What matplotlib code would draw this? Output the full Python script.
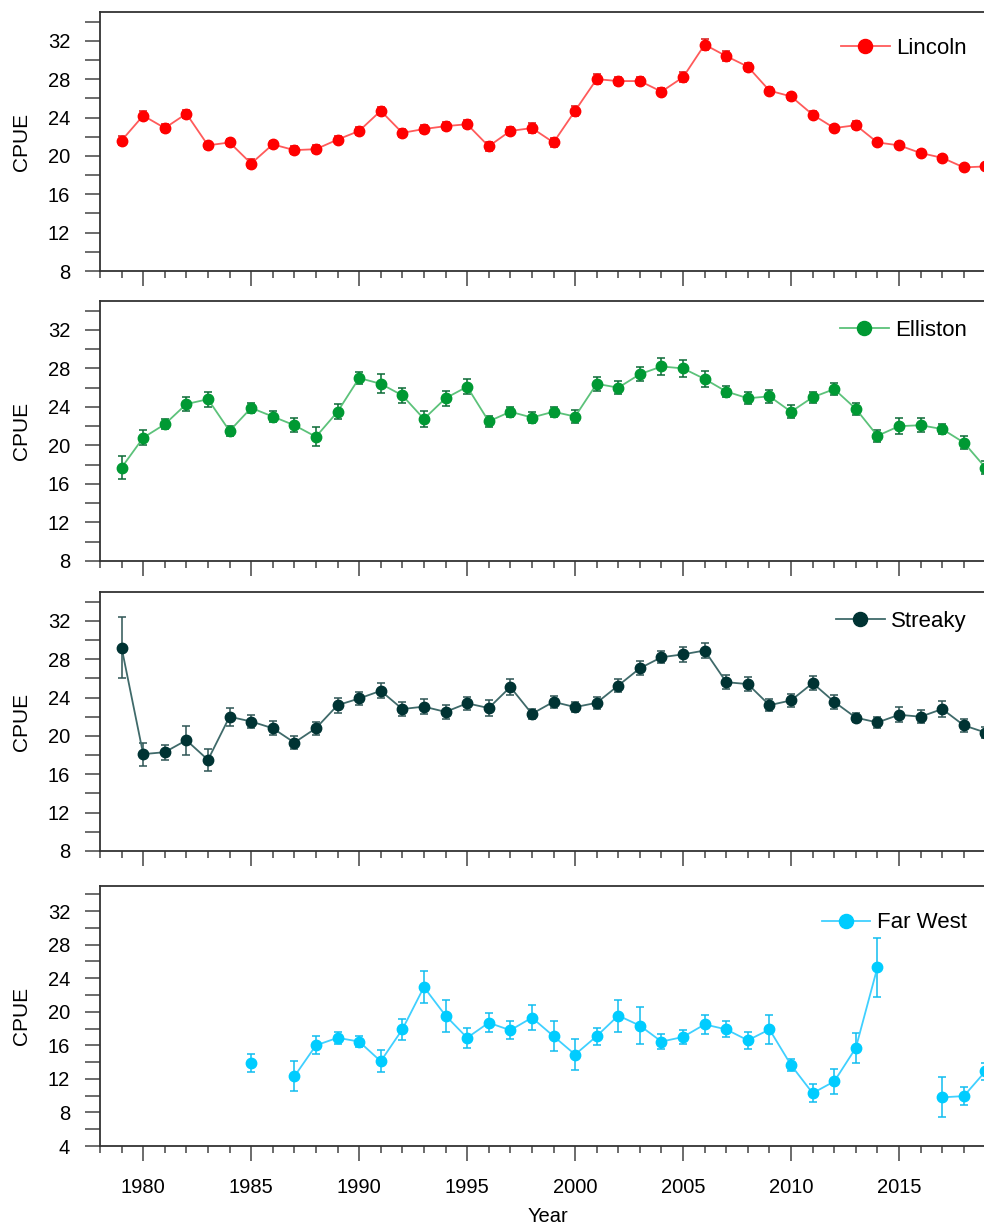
import numpy as np
import matplotlib
matplotlib.use("Agg")
import matplotlib.pyplot as plt
from matplotlib.ticker import MultipleLocator

plt.rcParams["font.family"] = ["Liberation Sans", "DejaVu Sans"]

# --- Data ---
years = np.arange(1979, 2020)
nan = np.nan

lincoln = [21.6, 24.2, 22.9, 24.4, 21.1, 21.4, 19.2, 21.2, 20.6, 20.7,
           21.7, 22.6, 24.7, 22.4, 22.8, 23.1, 23.3, 21.0, 22.6, 22.9,
           21.4, 24.7, 28.0, 27.8, 27.8, 26.7, 28.2, 31.6, 30.4, 29.3,
           26.8, 26.2, 24.3, 22.9, 23.2, 21.4, 21.1, 20.3, 19.8, 18.8,
           18.9]
lincoln_err = [0.5, 0.5, 0.4, 0.4, 0.4, 0.4, 0.5, 0.4, 0.4, 0.4,
               0.4, 0.4, 0.4, 0.4, 0.4, 0.4, 0.4, 0.5, 0.4, 0.5,
               0.5, 0.5, 0.5, 0.4, 0.4, 0.4, 0.5, 0.6, 0.5, 0.4,
               0.4, 0.4, 0.4, 0.3, 0.4, 0.3, 0.3, 0.3, 0.3, 0.3,
               0.3]

elliston = [17.7, 20.8, 22.2, 24.3, 24.8, 21.5, 23.9, 23.0, 22.1, 20.9,
            23.5, 27.0, 26.4, 25.2, 22.75, 24.9, 26.1, 22.5, 23.5, 22.9,
            23.5, 23.0, 26.4, 26.0, 27.4, 28.2, 28.0, 26.9, 25.6, 24.9,
            25.1, 23.5, 25.0, 25.85, 23.8, 21.0, 22.0, 22.1, 21.7, 20.3,
            17.7]
elliston_err = [1.2, 0.8, 0.5, 0.75, 0.8, 0.5, 0.5, 0.55, 0.7, 1.0,
                0.8, 0.6, 1.0, 0.8, 0.8, 0.8, 0.8, 0.6, 0.5, 0.6,
                0.5, 0.7, 0.7, 0.65, 0.75, 0.9, 0.9, 0.8, 0.6, 0.6,
                0.65, 0.7, 0.6, 0.6, 0.6, 0.6, 0.8, 0.7, 0.55, 0.7,
                0.7]

streaky = [29.2, 18.1, 18.3, 19.55, 17.5, 22.0, 21.5, 20.8, 19.3, 20.8,
           23.2, 23.9, 24.7, 22.8, 23.05, 22.5, 23.4, 22.9, 25.1, 22.3,
           23.55, 23.0, 23.45, 25.25, 27.05, 28.2, 28.5, 28.9, 25.6, 25.4,
           23.2, 23.7, 25.5, 23.55, 21.9, 21.4, 22.2, 22.0, 22.8, 21.1,
           20.35]
streaky_err = [3.2, 1.2, 0.8, 1.5, 1.15, 0.95, 0.65, 0.75, 0.7, 0.7,
               0.8, 0.7, 0.8, 0.7, 0.75, 0.7, 0.65, 0.8, 0.8, 0.5,
               0.6, 0.55, 0.6, 0.7, 0.75, 0.6, 0.8, 0.8, 0.7, 0.75,
               0.65, 0.7, 0.75, 0.75, 0.5, 0.6, 0.8, 0.7, 0.8, 0.7,
               0.6]

far_west = [nan, nan, nan, nan, nan, nan, 13.9, nan, 12.3, 16.0,
            16.9, 16.45, 14.1, 17.9, 22.95, 19.55, 16.9, 18.7, 17.8, 19.3,
            17.1, 14.9, 17.1, 19.55, 18.35, 16.45, 17.0, 18.5, 17.9, 16.6,
            17.9, 13.65, 10.3, 11.7, 15.7, 25.3, nan, nan, 9.8, 9.95,
            12.9]
far_west_err = [nan, nan, nan, nan, nan, nan, 1.1, nan, 1.8, 1.07,
                0.7, 0.7, 1.3, 1.3, 1.9, 1.9, 1.2, 1.1, 1.1, 1.5,
                1.8, 1.8, 1.0, 1.9, 2.2, 0.9, 0.8, 1.1, 0.95, 1.0,
                1.7, 0.7, 1.05, 1.5, 1.8, 3.5, nan, nan, 2.4, 1.05,
                1.0]

regions = ["Lincoln", "Elliston", "Streaky", "Far West"]
series = [lincoln, elliston, streaky, far_west]
errors = [lincoln_err, elliston_err, streaky_err, far_west_err]
year_ticks = [1980, 1985, 1990, 1995, 2000, 2005, 2010, 2015]

# marker colour, line colour, error bar colour
colors = [("#FF0000", "#FF5A5A", "#D81818"),
          ("#009933", "#5CC27A", "#0A6B35"),
          ("#003333", "#3F6A6A", "#2E5555"),
          ("#00CCFF", "#3FD0FF", "#10BDF0")]
y_bottoms = [8, 8, 8, 4]

# axes boxes in pixels (top, bottom); the plot runs past the right edge
FIG_W, FIG_H = 984, 1226
panel_px = [(12, 271), (301, 561), (592, 851), (886, 1146)]
legend_offsets = [36, 29, 29, 37]
AX_LEFT = 100
AX_WIDTH = 907

fig = plt.figure(figsize=(FIG_W / 100, FIG_H / 100), dpi=100)

for i, (name, vals, errs) in enumerate(zip(regions, series, errors)):
    top, bot = panel_px[i]
    ax = fig.add_axes([AX_LEFT / FIG_W, 1 - bot / FIG_H,
                       AX_WIDTH / FIG_W, (bot - top) / FIG_H])
    mcol, lcol, ecol = colors[i]
    vals = np.array(vals, dtype=float)
    errs = np.array(errs, dtype=float)

    ax.errorbar(years, vals, yerr=errs, fmt="none", ecolor=ecol,
                elinewidth=1.1, capsize=2.8, capthick=1.1, zorder=2)
    ax.plot(years, vals, color=lcol, lw=1.3, marker="o", ms=7.5,
            mfc=mcol, mec=mcol, label=name, zorder=3)

    ax.set_xlim(1978, 2020)
    ax.set_ylim(y_bottoms[i], 35)
    ax.set_xticks(year_ticks)
    ax.xaxis.set_minor_locator(MultipleLocator(1))
    ax.yaxis.set_major_locator(MultipleLocator(4))
    ax.yaxis.set_minor_locator(MultipleLocator(2))

    ax.tick_params(axis="x", which="major", direction="out", length=11,
                   width=1.1, color="#444444", labelsize=14.5, pad=12)
    ax.tick_params(axis="x", which="minor", direction="out", length=5,
                   width=1.1, color="#444444")
    ax.tick_params(axis="y", which="both", direction="out", length=10.5,
                   width=1.1, color="#444444", labelsize=14.5, pad=11)
    for sp in ax.spines.values():
        sp.set_color("#333333")
        sp.set_linewidth(1.3)

    ax.set_ylabel("CPUE", fontsize=15)
    ax.yaxis.set_label_coords(-0.076, 0.5)

    if i < 3:
        ax.tick_params(axis="x", labelbottom=False)
    else:
        ax.set_xlabel("Year", fontsize=14.5, va="top")
        ax.xaxis.set_label_coords(0.494, -0.235)

    yfrac = 1 - legend_offsets[i] / (bot - top)
    ax.legend(loc="center right", bbox_to_anchor=(0.956, yfrac),
              frameon=False, fontsize=16, handlelength=2.2,
              handletextpad=0.3, borderpad=0, borderaxespad=0,
              markerscale=1.35)

fig.savefig("out.png", dpi=100)
